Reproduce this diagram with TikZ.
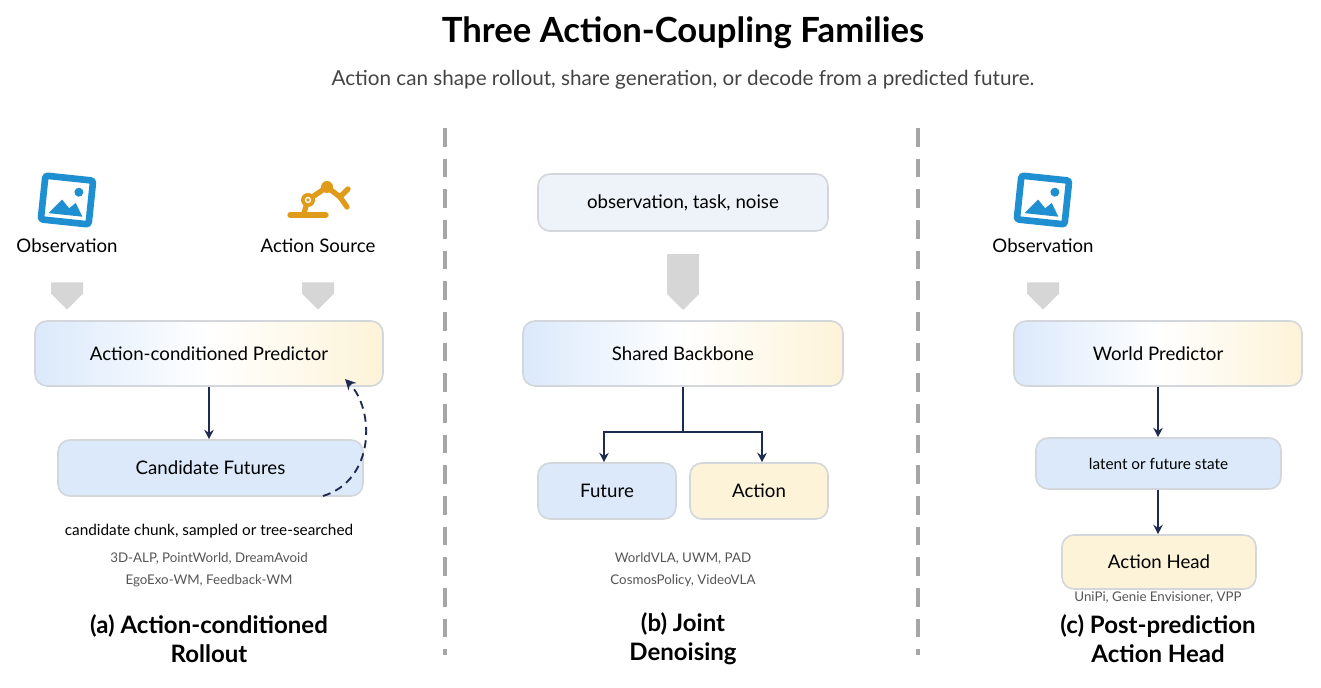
\documentclass[tikz,border=0pt]{standalone}
\usepackage{fontspec}
\setmainfont{Lato}
\usetikzlibrary{arrows.meta,shapes.arrows}
\definecolor{navy}{HTML}{1E2A50}
\definecolor{bblue}{HTML}{DBE9FB}
\definecolor{byel}{HTML}{FDF3D8}
\definecolor{bgray}{HTML}{EEF3F9}
\definecolor{edge}{HTML}{D3D6DA}
\definecolor{garr}{HTML}{D6D6D6}
\definecolor{icoblue}{HTML}{1E90D2}
\definecolor{icoor}{HTML}{E09B1A}
\definecolor{txtg}{HTML}{555555}
\newcommand{\fs}[1]{\fontsize{#1}{#1}\selectfont}
\tikzset{
 box/.style={draw=edge,line width=1.2pt,rounded corners=9pt,inner sep=0pt},
 grad/.style={box,left color=bblue,right color=byel,middle color=white},
 blu/.style={box,fill=bblue},
 yel/.style={box,fill=byel},
 lab/.style={font=\fs{14}},
 sm/.style={font=\fs{10},text=txtg},
 captxt/.style={font=\fs{18}\bfseries,align=center},
 arr/.style={navy,line width=1.4pt,-{Stealth[length=7pt,width=7pt]}},
 gar/.style={single arrow,fill=garr,draw=none,shape border rotate=270,minimum height=20pt,minimum width=24pt,single arrow head extend=0pt,inner sep=4pt},
 sep/.style={line width=3.5pt,draw=gray!70,dash pattern=on 14pt off 9pt}
}
\begin{document}
\begin{tikzpicture}[x=0.75pt,y=-0.75pt]
\useasboundingbox (0,0) rectangle (1321,688);
\node[font=\fs{26}\bfseries] (title) at (683,33) {Three Action-Coupling Families};
\node[font=\fs{15.5},text=txtg!80!black] (sub) at (683,80) {Action can shape rollout, share generation, or decode from a predicted future.};
\draw[sep] (445,128) -- (445,655);
\draw[sep] (918,128) -- (918,655);
% icons
\begin{scope}[shift={(67,200)},rotate=-6]
\draw[icoblue,line width=5pt,rounded corners=2pt] (-24,-22) rectangle (24,22);
\fill[icoblue] (-17,15) -- (-5,0) -- (3,8) -- (9,2) -- (17,15) -- cycle;
\fill[icoblue] (11,-9) circle (4.5);
\end{scope}
\begin{scope}[shift={(318,195)},icoor,line width=4pt,line cap=round]
\draw (-28,20) -- (8,20);
\draw (-14,18) -- (-10,5) -- (9,-8) -- (22,2);
\draw (22,2) -- (30,-6); \draw (22,2) -- (29,12);
\fill (-10,5) circle (7); \fill (9,-8) circle (6);
\draw[white,line width=1pt] (-10,5) circle (2.5);
\end{scope}
% (a)
\node[lab] (obsA) at (67,246) {Observation};
\node[lab] (actS) at (318,246) {Action Source};
\node[gar] (ga1) at (67,288) {};
\node[gar] (ga2) at (318,288) {};
\node[grad,minimum width=261pt,minimum height=48.75pt,lab] (pred) at (209,353.5) {Action-conditioned Predictor};
\node[blu,minimum width=228.75pt,minimum height=42pt,lab] (cand) at (210.5,468) {Candidate Futures};
\draw[arr] (pred.south -| 209,0) -- (cand.north -| 209,0);
\coordinate (fb1) at (323,496);
\draw[navy,line width=1.4pt,dash pattern=on 6pt off 4pt,-{Stealth[length=8pt,width=8pt]}] (fb1) .. controls (375,480) and (375,410) .. (345,379);
\node[font=\fs{11.5}] (ta1) at (209,531) {candidate chunk, sampled or tree-searched};
\node[sm] (ta2) at (209,558) {3D-ALP, PointWorld, DreamAvoid};
\node[sm] (ta3) at (209,581) {EgoExo-WM, Feedback-WM};
\node[captxt] (capA) at (209,639) {(a) Action-conditioned\\[4pt]Rollout};
% (b)
\node[box,fill=bgray,minimum width=217.5pt,minimum height=42.75pt,lab] (otn) at (683,202.5) {observation, task, noise};
\node[gar,minimum height=42pt] (gb) at (683,274) {};
\node[grad,minimum width=240pt,minimum height=48.75pt,lab] (bb) at (683,353.5) {Shared Backbone};
\node[blu,minimum width=103.5pt,minimum height=42pt,lab] (fut) at (607,491) {Future};
\node[yel,minimum width=103.5pt,minimum height=42pt,lab] (act) at (759,491) {Action};
\coordinate (jn) at (683,432);
\draw[navy,line width=1.4pt] (bb.south) -- (jn);
\draw[arr] (jn) -| (fut.north -| 604,0);
\draw[arr] (jn) -| (act.north -| 762,0);
\node[sm] (tb1) at (683,558) {WorldVLA, UWM, PAD};
\node[sm] (tb2) at (683,581) {CosmosPolicy, VideoVLA};
\node[captxt] (capB) at (683,639) {(b) Joint\\[4pt]Denoising};
% (c)
\begin{scope}[shift={(1043,200)},rotate=-6]
\draw[icoblue,line width=5pt,rounded corners=2pt] (-24,-22) rectangle (24,22);
\fill[icoblue] (-17,15) -- (-5,0) -- (3,8) -- (9,2) -- (17,15) -- cycle;
\fill[icoblue] (11,-9) circle (4.5);
\end{scope}
\node[lab] (obsC) at (1043,246) {Observation};
\node[gar] (gc) at (1043,288) {};
\node[grad,minimum width=216pt,minimum height=48.75pt,lab] (wp) at (1158,353.5) {World Predictor};
\node[blu,minimum width=183.75pt,minimum height=38.25pt,font=\fs{11.5}] (lat) at (1158.5,463.5) {latent or future state};
\node[yel,minimum width=145.5pt,minimum height=40.5pt,lab] (ah) at (1159,562) {Action Head};
\draw[arr] (wp.south -| 1158,0) -- (lat.north -| 1158,0);
\draw[arr] (lat.south -| 1158,0) -- (ah.north -| 1158,0);
\node[sm] (tc1) at (1158,598) {UniPi, Genie Envisioner, VPP};
\node[captxt] (capC) at (1158,639) {(c) Post-prediction\\[4pt]Action Head};
\end{tikzpicture}
\end{document}
